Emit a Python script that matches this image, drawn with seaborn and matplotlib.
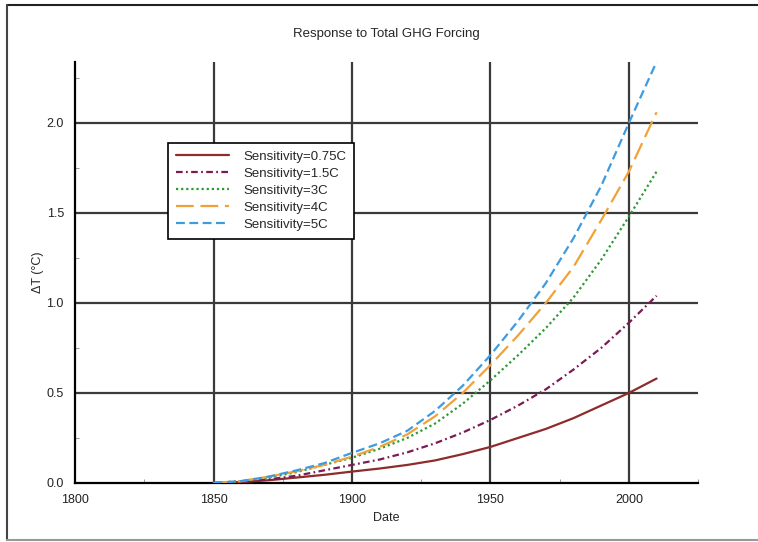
import numpy as np
import pandas as pd
import matplotlib
matplotlib.use("Agg")
import matplotlib.pyplot as plt
from matplotlib.lines import Line2D
from matplotlib.ticker import MultipleLocator
import seaborn as sns

years = [1850, 1860, 1870, 1880, 1890, 1900, 1910, 1920, 1930,
         1940, 1950, 1960, 1970, 1980, 1990, 2000, 2010]

sens_075 = [0, 0.005, 0.015, 0.03, 0.045, 0.063, 0.08, 0.10, 0.125,
            0.16, 0.20, 0.25, 0.30, 0.36, 0.43, 0.50, 0.58]
sens_15 = [0, 0.007, 0.02, 0.04, 0.07, 0.10, 0.13, 0.17, 0.22,
           0.28, 0.35, 0.43, 0.52, 0.63, 0.75, 0.89, 1.04]
sens_3 = [0, 0.01, 0.03, 0.06, 0.10, 0.14, 0.19, 0.25, 0.33,
          0.44, 0.57, 0.71, 0.86, 1.03, 1.24, 1.48, 1.73]
sens_4 = [0, 0.01, 0.035, 0.065, 0.10, 0.146, 0.20, 0.27, 0.37,
          0.50, 0.655, 0.82, 1.0, 1.2, 1.46, 1.73, 2.06]
sens_5 = [0, 0.01, 0.035, 0.07, 0.11, 0.167, 0.22, 0.29, 0.40,
          0.54, 0.71, 0.90, 1.11, 1.36, 1.65, 2.0, 2.34]

labels = ["Sensitivity=0.75C", "Sensitivity=1.5C", "Sensitivity=3C",
          "Sensitivity=4C", "Sensitivity=5C"]
series = [sens_075, sens_15, sens_3, sens_4, sens_5]

colors = ["#8e2b2b", "#7d1a55", "#2e9a34", "#f0a238", "#3d9be0"]
dashes = ["", (3, 1.5, 0.8, 1.5), (1, 1.3), (8, 3), (4, 2)]

df = pd.concat([pd.DataFrame({"Date": years, "dT": s, "label": lab})
                for s, lab in zip(series, labels)], ignore_index=True)

sns.set_style("white")
plt.rcParams["font.family"] = ["Liberation Sans", "DejaVu Sans"]

fig = plt.figure(figsize=(7.58, 5.42), dpi=100)
ax = fig.add_axes([0.099, 0.109, 0.822, 0.777])

# grid first so the curves sit on top
for x in [1850, 1900, 1950, 2000]:
    ax.axvline(x, color="#3a3a3a", lw=1.6, zorder=1)
for y in [0.5, 1.0, 1.5, 2.0]:
    ax.axhline(y, color="#3a3a3a", lw=1.6, zorder=1)

sns.lineplot(data=df, x="Date", y="dT", hue="label", style="label",
             palette=dict(zip(labels, colors)),
             dashes=dict(zip(labels, dashes)),
             linewidth=1.6, ax=ax, zorder=3)

ax.set_xlim(1800, 2025)
ax.set_ylim(0, 2.34)
ax.set_xticks([1800, 1850, 1900, 1950, 2000])
ax.set_yticks([0.0, 0.5, 1.0, 1.5, 2.0])
ax.set_yticklabels(["0.0", "0.5", "1.0", "1.5", "2.0"])
ax.xaxis.set_minor_locator(MultipleLocator(25))
ax.yaxis.set_minor_locator(MultipleLocator(0.25))
ax.tick_params(which="major", length=0, labelsize=9, pad=8, colors="#222")
ax.tick_params(which="minor", direction="in", length=3, width=0.6,
               color="#888", bottom=True, left=True)

for side in ["top", "right"]:
    ax.spines[side].set_visible(False)
for side in ["left", "bottom"]:
    ax.spines[side].set_color("black")
    ax.spines[side].set_linewidth(1.6)

ax.set_xlabel("Date", fontsize=9, labelpad=4)
ax.set_ylabel("ΔT (°C)", fontsize=9, labelpad=2)
ax.set_title("Response to Total GHG Forcing", fontsize=9.5, pad=18)

h, l = ax.get_legend_handles_labels()
leg = ax.legend(h, l, loc="upper left", bbox_to_anchor=(0.149, 0.808),
                borderaxespad=0, frameon=True, fancybox=False,
                edgecolor="black", fontsize=9.5, handlelength=4.0,
                handletextpad=1.1, labelspacing=0.36, borderpad=0.6,
                framealpha=1)
leg.get_frame().set_linewidth(1.2)
leg.set_zorder(5)

# page frame: top and left dark, bottom light, no right edge
fig.add_artist(Line2D([0.009, 1.0], [0.991, 0.991], color="#222", lw=1.5))
fig.add_artist(Line2D([0.009, 0.009], [0.004, 0.991], color="#444", lw=1.5))
fig.add_artist(Line2D([0.009, 1.0], [0.004, 0.004], color="#999", lw=1.5))

fig.savefig("out.png", dpi=100)
